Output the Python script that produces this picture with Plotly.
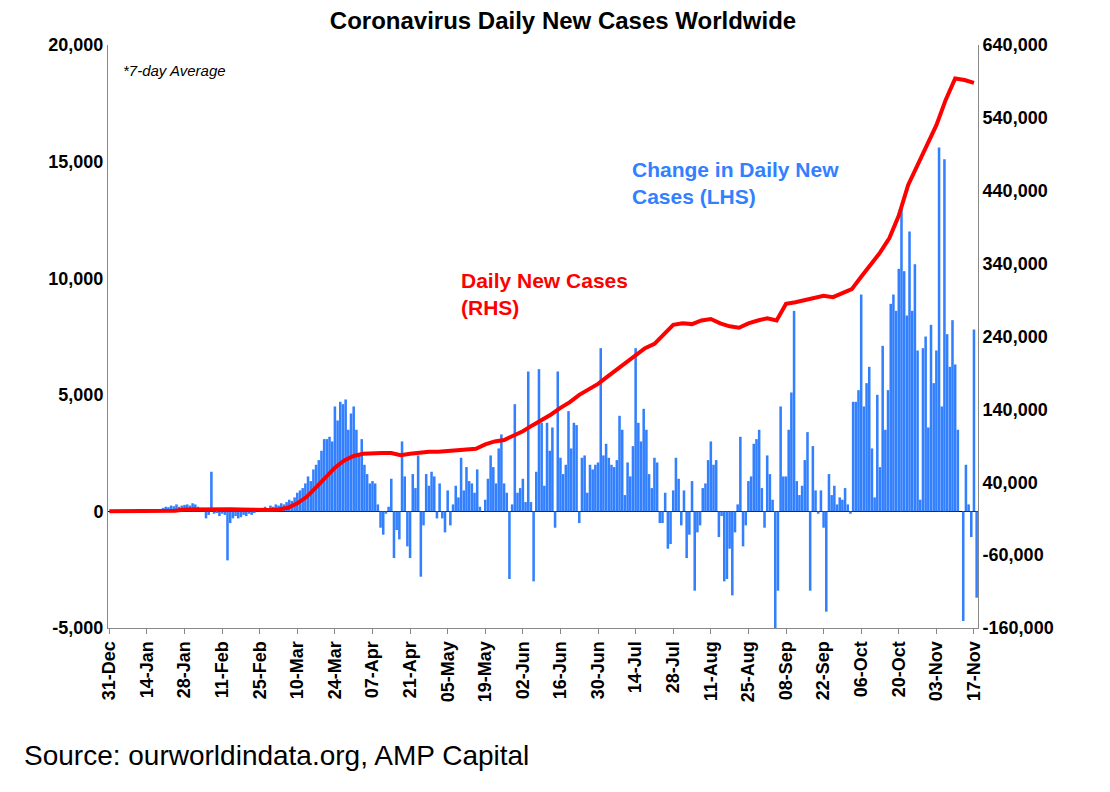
import pandas as pd
import plotly.graph_objects as go

# change in daily new cases (LHS), daily from 31-Dec-2019
bars_jan_mar = [0, 0, 0, 0, 0, 0, 0,
                0, 0, 0, 0, 0, 0, 0,
                0, 0, 0, 0, 0, 100, 150,
                200, 180, 250, 220, 300, 200, 250,
                280, 300, 250, 350, 300, 200, 100,
                150, -300, -150, 1700, -100, -50, -200,
                -100, -150, -2100, -500, -300, -200, -300,
                -250, -150, -200, -100, -150, -50, 0,
                100, 150, 200, 100, 250, 200, 300,
                250, 350, 300, 400, 500, 450, 600,
                800, 900, 1000, 1200, 1500, 1300, 1800,
                2000, 2200, 2600, 3100, 3100, 3200, 3000,
                4500, 3900, 4700, 4600, 4800, 3500, 4200,
                4500, 3500, 2500, 3100, 2000, 1600, 1200,
                1300, 1200, 300]
bars_apr_jul = [-700, -1000, -100, 200, 1400, -2000, -800, -1200, 3000, 1500,
                -1500, -2000, 1600, 1000, 2400, -2800, -600, 1600, 1100, 1700,
                1500, -300, 1200, -300, -900, 900, -600, 300, 1100, 600,
                2300, 900, 1900, 1300, 1200, 800, 1800, 200, 0, 500,
                1400, 2400, 1900, 1200, 2700, 3300, 1200, 800, -2900, 300,
                4600, 800, 1000, 1400, 400, 6000, 400, -3000, 1700, 6100,
                3800, 1100, 3800, 2600, 3600, -700, 6000, 2300, 1600, 2000,
                4300, 2700, 3800, 3700, -500, 2300, 2400, 800, 2000, 1800,
                2000, 2100, 7000, 2400, 2900, 2300, 2000, 1900, 2200, 4100,
                3500, 700, 2100, 1500, 2800, 7000, 3800, 3000, 4400, 3500,
                1600, 1000, 2300, 2100, -500, -500, 800, -1600, -1400, 900]
bars_aug_sep = [2300, 1400, -600, 900, -2000, -1000, 1300, -3400, -900, -600,
                1000, 1200, 2200, 3000, 2000, 2200, -1100, -200, -3000, -2900,
                -1600, -3600, -900, 300, 3200, -1500, -600, 1300, 1500, 2900,
                3100, 3500, 1000, -700, 2400, 1600, 500,
                -5000, -3400, 4500, 1500, 1500, 3500, 5100, 8600, 1300, 700,
                1100, 2200, 3400, -3400, 2800, 900, -100, 900, -700, -4300,
                1600, 700, 1100, 300]
bars_oct_nov = [600, 500, 1000, 300, -100, 4700, 4700, 5200, 9300, 4500,
                5500, 6200, 2700, 600, 5000, 1900, 7100, 3500, 5200, 8900,
                9300, 8600, 10400, 13100, 10300, 8400, 12000, 8600, 10600, 6900,
                500, 7000, 7500, 3600, 8000, 5500, 6900, 15600, 4500, 15100,
                7600, 6200, 8200, 6300, 3500, 0, -4700, 2000, 300, -1100,
                7800, -3700, 0, -1400, -3000]
bars = bars_jan_mar + bars_apr_jul + bars_aug_sep + bars_oct_nov
bar_dates = pd.date_range("2019-12-31", periods=len(bars), freq="D")

# daily new cases, 7-day average (RHS), readings every 3-4 days
line_dates = pd.date_range("2019-12-31", periods=93, freq="3D12h")
line_vals = [100, 100, 100, 100, 200, 200, 400, 1000, 2500, 2800,
             3000, 3100, 3200, 2800, 2500, 2000, 1500, 2000, 2500, 5000,
             11000, 20000, 33000, 47000, 60000, 70000, 76000, 79000, 80000, 80000,
             80000, 77000, 79000, 81000, 82000, 82000, 83000, 84000, 84000, 86000,
             92000, 96000, 98000, 104000, 110000, 118000, 125000, 133000, 142000, 150000,
             160000, 168000, 175000, 185000, 195000, 205000, 215000, 224000, 230000, 243000,
             256000, 258000, 257000, 262000, 264000, 258000, 254000, 252000, 258000, 262000,
             265000, 262000, 285000, 287000, 290000, 292000, 296000, 294000, 300000, 305000,
             322000, 338000, 355000, 375000, 406000, 448000, 475000, 500000, 530000, 565000,
             594000, 592000, 588000]

tick_dates = pd.date_range("2019-12-31", periods=24, freq="14D")

fig = go.Figure()
fig.add_trace(go.Bar(x=bar_dates, y=bars, marker_color="#3380ff",
                     marker_line_width=0, name="Change"))
fig.add_trace(go.Scatter(x=line_dates, y=line_vals, yaxis="y2", mode="lines",
                         line=dict(color="#ff0000", width=4), name="Daily"))

tickfont = dict(family="Arial", size=18, color="black")
fig.update_layout(
    width=1110, height=792, showlegend=False, bargap=0.05,
    paper_bgcolor="white", plot_bgcolor="white",
    margin=dict(l=100, r=140, t=37, b=172),
    title=dict(text="<b>Coronavirus Daily New Cases Worldwide</b>", x=0.5, xanchor="center",
               y=0.995, yanchor="top", font=dict(family="Arial", size=24, color="black")),
    xaxis=dict(range=["2019-12-30 12:00", "2020-11-18 12:00"], tickvals=tick_dates,
               ticktext=[f"<b>{d.strftime('%d-%b')}</b>" for d in tick_dates],
               tickangle=-90, tickfont=tickfont, showgrid=False,
               showline=True, linecolor="#888", ticks="outside", ticklen=5, tickcolor="#888"),
    yaxis=dict(range=[-5000, 20000], tickvals=list(range(-5000, 20001, 5000)),
               ticktext=["<b>-5,000</b>", "<b>0</b>", "<b>5,000</b>", "<b>10,000</b>",
                         "<b>15,000</b>", "<b>20,000</b>"],
               tickfont=tickfont, showgrid=False, showline=True, linecolor="#888",
               zeroline=True, zerolinecolor="black", zerolinewidth=1),
    yaxis2=dict(range=[-160000, 640000], overlaying="y", side="right",
                tickvals=list(range(-160000, 640001, 100000)),
                ticktext=[f"<b>{v:,}</b>" for v in range(-160000, 640001, 100000)],
                tickfont=tickfont, showgrid=False, showline=True, linecolor="#888",
                zeroline=False),
    annotations=[
        dict(text="<i>*7-day Average</i>", x=0.015, y=0.975, xref="paper", yref="paper",
             xanchor="left", yanchor="top", showarrow=False,
             font=dict(family="Arial", size=15, color="black")),
        dict(text="<b>Change in Daily New<br>Cases (LHS)</b>", x=0.60, y=0.81,
             xref="paper", yref="paper", xanchor="left", yanchor="top", showarrow=False,
             align="left", font=dict(family="Arial", size=21, color="#3380ff")),
        dict(text="<b>Daily New Cases<br>(RHS)</b>", x=0.404, y=0.62,
             xref="paper", yref="paper", xanchor="left", yanchor="top", showarrow=False,
             align="left", font=dict(family="Arial", size=21, color="#ff0000")),
        dict(text="Source: ourworldindata.org, AMP Capital", x=-86 / 870, y=-(755 - 628) / 583,
             xref="paper", yref="paper", xanchor="left", yanchor="middle", showarrow=False,
             font=dict(family="Arial", size=28, color="black")),
    ],
)
fig.write_html("out.html")
